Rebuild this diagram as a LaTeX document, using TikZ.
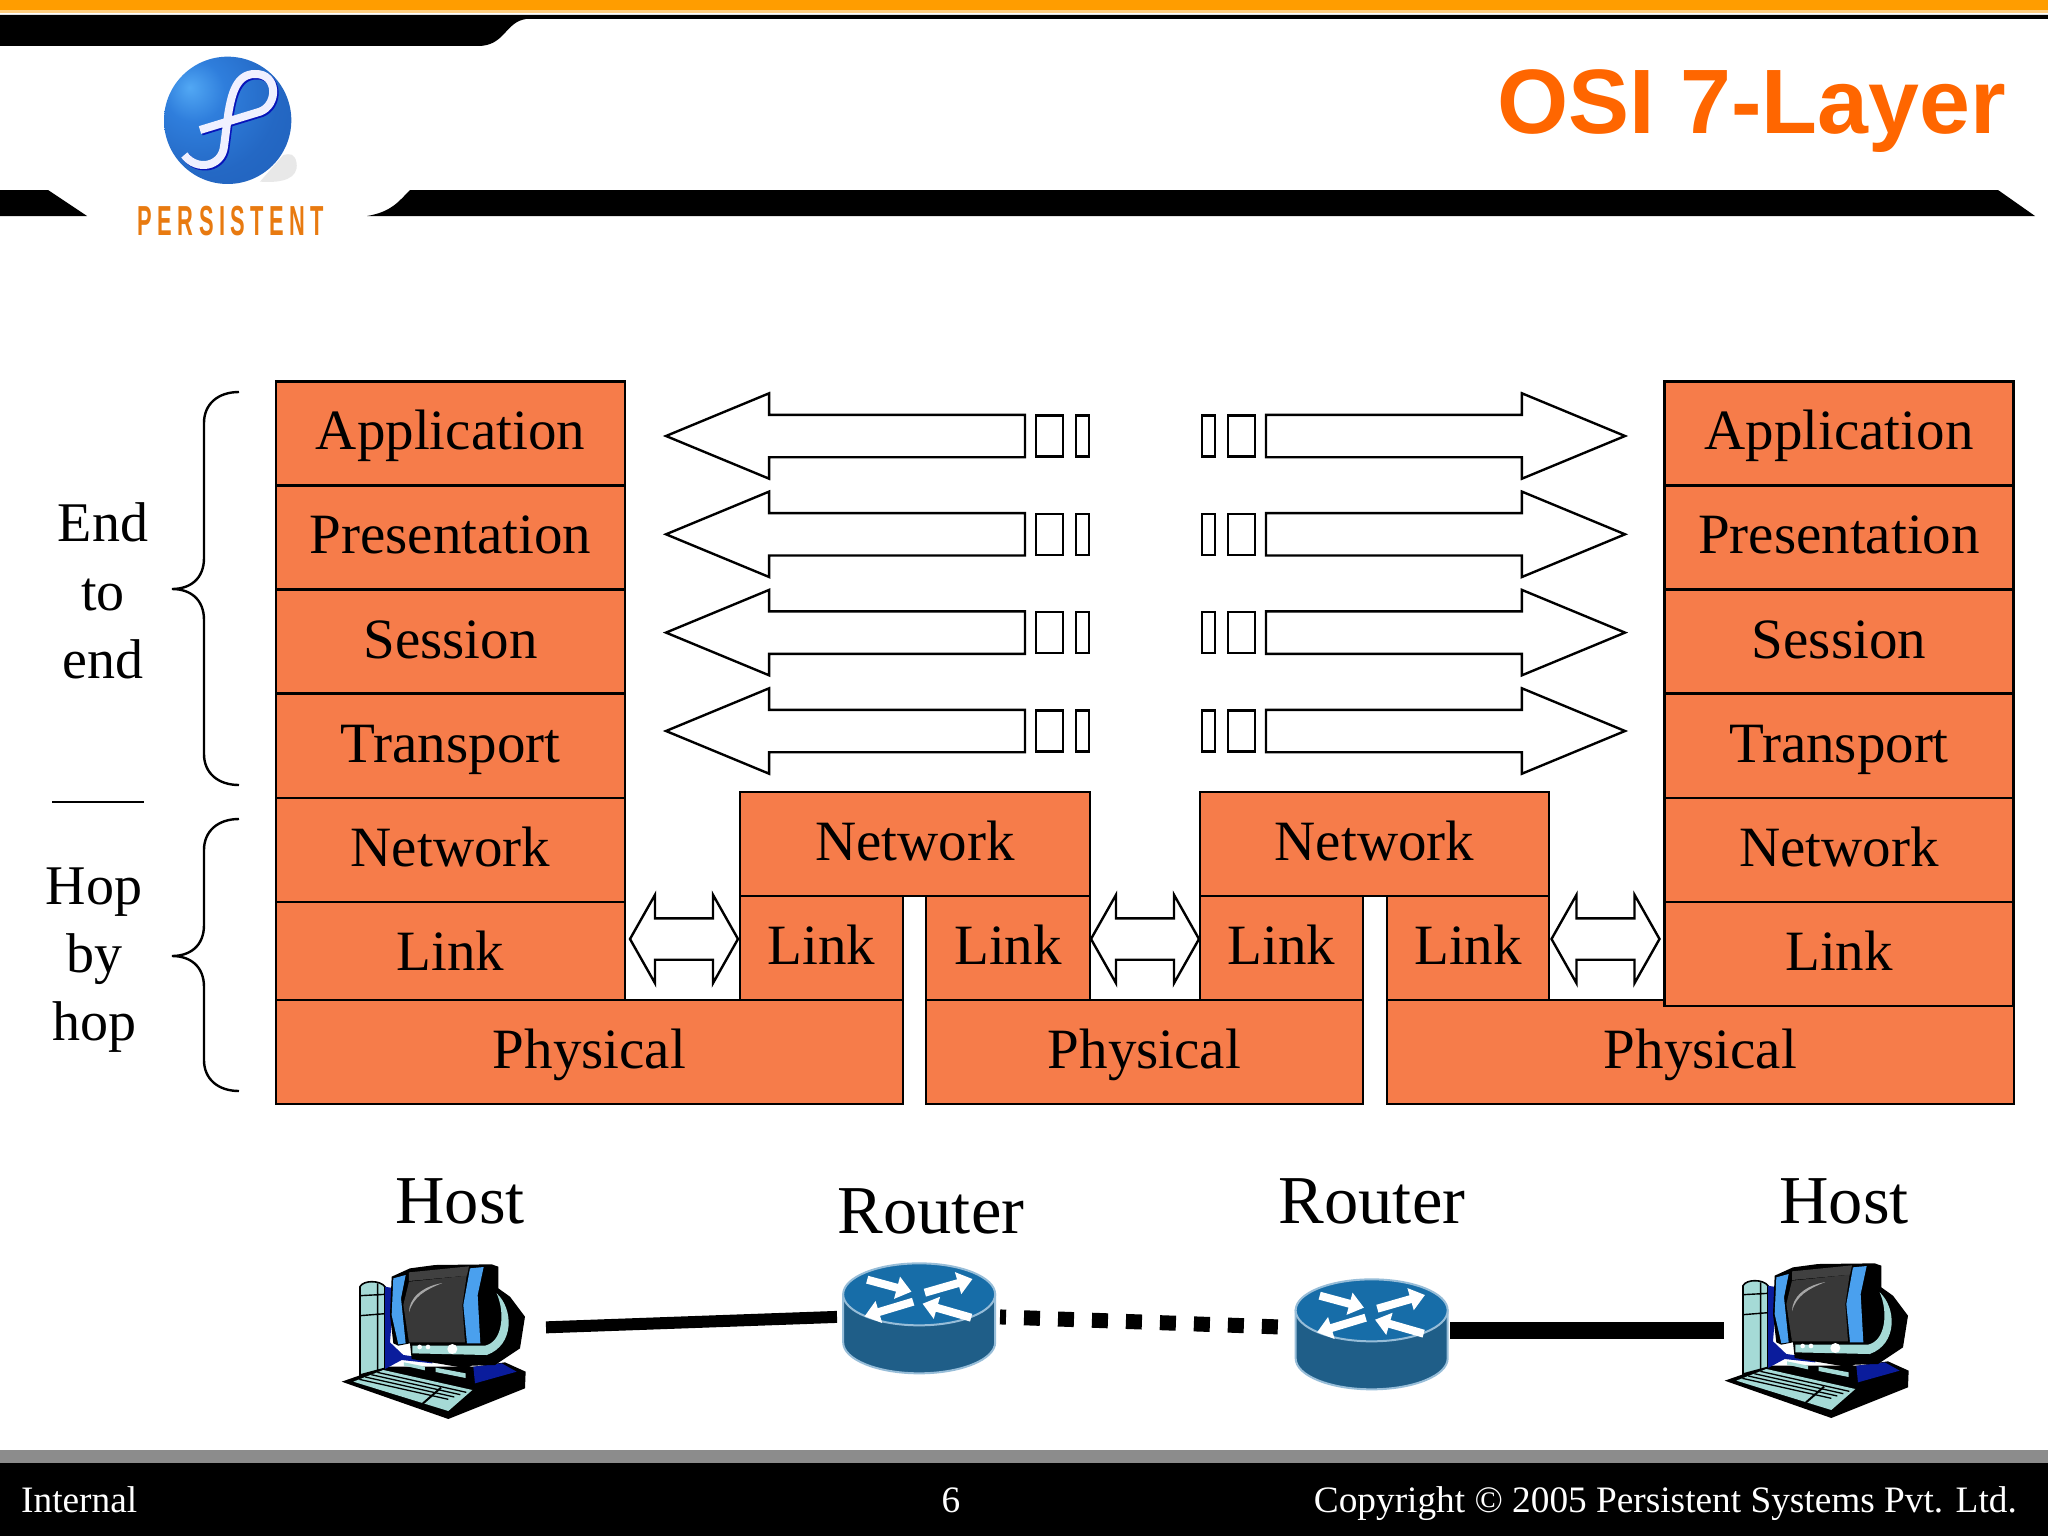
\documentclass[tikz,border=0pt]{standalone}
\usepackage{fontspec}
\setmainfont{Liberation Serif}
\newfontfamily\titlefont{Liberation Sans}
\newfontfamily\logofont[LetterSpace=25]{Liberation Sans}
\usepackage{tikz}
\usetikzlibrary{arrows.meta,shapes.arrows,calc}

\definecolor{layerfill}{HTML}{F67C4A}
\definecolor{titleorange}{HTML}{FF6600}
\definecolor{bandorange}{HTML}{FF9D00}
\definecolor{logoorange}{HTML}{E87A10}
\definecolor{monpale}{HTML}{A5DAD6}
\definecolor{mondeep}{HTML}{0A1C9C}
\definecolor{monblue}{HTML}{4AA0EE}
\definecolor{routertop}{HTML}{176DA8}
\definecolor{routerbody}{HTML}{1F5E88}
\definecolor{ballhi}{HTML}{52A8F4}
\definecolor{ballmid}{HTML}{2F7EDC}
\definecolor{ballrim}{HTML}{2468C4}
\definecolor{ballout}{HTML}{1E5CB6}

\pgfdeclareradialshading{logoball}{\pgfpoint{-15bp}{13bp}}{%
  color(0bp)=(ballhi);
  color(12bp)=(ballmid);
  color(30bp)=(ballrim);
  color(60bp)=(ballout);
  color(100bp)=(ballout)}

\tikzset{
  layer/.style={draw=black,fill=layerfill,line width=2.6pt,inner sep=0pt,outer sep=0pt,
    minimum height=104.1pt,text height=41.3pt,text depth=8.7pt,
    font=\fontsize{57}{68}\selectfont},
  hoststack/.style={layer,minimum width=349pt},
  sidetext/.style={align=center,font=\fontsize{56}{68.3}\selectfont},
  devicetext/.style={font=\fontsize{68.5}{80}\selectfont},
  foottext/.style={text=white,font=\fontsize{37.3}{42}\selectfont},
  blockarrow/.style={draw=black,fill=white,line width=2.4pt,inner xsep=0pt,outer sep=0pt},
  leftarrow/.style={blockarrow,single arrow,shape border rotate=180,anchor=tip,inner ysep=20pt,
    minimum width=83pt,minimum height=359pt,single arrow head extend=21.5pt,
    single arrow tip angle=45},
  rightarrow/.style={blockarrow,single arrow,anchor=tip,inner ysep=20pt,
    minimum width=83pt,minimum height=359pt,single arrow head extend=21.5pt,
    single arrow tip angle=45},
  linkarrow/.style={blockarrow,double arrow,inner ysep=19.5pt,minimum width=86pt,minimum height=108pt,
    double arrow head extend=23.5pt,double arrow tip angle=121},
  dashbox/.style={draw=black,fill=white,line width=2.4pt,inner sep=0pt,outer sep=0pt,minimum height=41pt},
  devicespot/.style={inner sep=0pt,outer sep=0pt,minimum height=100pt},
  bracestroke/.style={draw=black,line width=2.4pt},
  computer/.pic={
    \begin{scope}[x=.3333pt,y=-.3333pt,shift={(-18,-228)}]
      % base and keyboard tray
      \fill[black] (20,380) -- (150,335) -- (420,335) -- (510,322) -- (572,350) -- (570,400) -- (340,492) -- cycle;
      % tower
      \draw[fill=monpale,line width=1.6pt] (75,360) -- (75,95) .. controls (85,75) and (135,75) .. (150,95) -- (150,340) -- cycle;
      \draw[line width=1.4pt] (128,85) -- (128,350) (75,122) -- (150,118) (75,182) -- (150,176);
      % blue behind
      \fill[mondeep] (150,95) -- (178,100) -- (165,262) -- (205,300) -- (292,312) -- (292,325) -- (200,315) -- (150,342) -- cycle;
      \fill[mondeep] (415,335) -- (500,325) -- (545,350) -- (420,385) -- cycle;
      % monitor
      \fill[black] (170,65) -- (225,40) -- (300,30) -- (470,28) -- (490,35) -- (490,100) -- (525,125) -- (570,185) -- (555,280) -- (480,330) -- (410,332) -- (395,340) -- (230,312) -- (225,265) -- (190,272) -- (175,265) -- (165,180) -- cycle;
      \fill[monpale] (485,115) .. controls (535,160) and (540,270) .. (455,300) -- (232,295) -- (232,272) -- (450,272) .. controls (505,260) and (510,170) .. (485,115) -- cycle;
      \fill[monblue] (175,70) -- (212,60) -- (198,130) -- (212,265) -- (190,268) -- (170,180) -- cycle;
      \fill[monblue] (405,40) -- (446,36) -- (428,120) -- (436,265) -- (396,265) -- (385,150) -- cycle;
      \fill[black!75] (222,52) -- (402,34) -- (396,62) -- (222,78) -- cycle;
      \fill[black!78] (222,80) -- (395,62) -- (382,150) -- (390,262) -- (222,262) -- (205,150) -- cycle;
      \fill[black!35] (222,172) .. controls (222,130) and (260,95) .. (322,84) .. controls (270,105) and (235,125) .. (222,172) -- cycle;
      \fill[white] (254,276) circle (7) (279,276) circle (7) (352,282) circle (15);
      % small slots
      \fill[monpale] (207,322) -- (270,335) -- (270,346) -- (207,332) -- cycle;
      \fill[monpale] (302,338) -- (392,355) -- (392,369) -- (302,351) -- cycle;
      % keys
      \fill[monpale] (55,380) -- (145,345) -- (412,405) -- (340,468) -- cycle;
      \foreach \k in {1,2,3,4}
        \draw[line width=1.3pt] ($(145,345)+\k*(-18,7)$) -- ++(267,60);
      \draw[line width=2pt] (262,447) -- (318,398);
    \end{scope}
  },
  routericon/.pic={
    \begin{scope}[x=.3333pt,y=-.3333pt,shift={(-266,-177)}]
      \draw[draw=routertop!45!white,fill=routerbody,line width=2pt] (40,118) -- (40,262) arc[start angle=180,end angle=0,x radius=228,y radius=93] -- (496,118) -- cycle;
      \draw[draw=routertop!45!white,fill=routertop,line width=2pt] (268,118) ellipse[x radius=228,y radius=93];
      \draw[white,line width=8pt,-{Triangle[length=15pt,width=22pt]}] (112,74) -- (245,110);
      \draw[white,line width=8pt,-{Triangle[length=15pt,width=22pt]}] (285,113) -- (428,72);
      \draw[white,line width=8pt,-{Triangle[length=15pt,width=22pt]}] (250,140) -- (104,184);
      \draw[white,line width=8pt,-{Triangle[length=15pt,width=22pt]}] (424,188) -- (278,146);
    \end{scope}
  }
}

\newcommand{\sidebrace}[3]{%
  \draw[bracestroke] (239,#1) .. controls (218,#1) and (204,#1+12) .. (204,#1+31) -- (204,#2-31)
    .. controls (204,#2-10) and (190,#2) .. (172,#2) .. controls (190,#2) and (204,#2+10) .. (204,#2+31)
    -- (204,#3-31) .. controls (204,#3-12) and (218,#3) .. (239,#3);}

\begin{document}
\begin{tikzpicture}[x=1pt,y=-1pt,node distance=104.1pt]

    \useasboundingbox (0,0) rectangle (2048,1536);
    \fill[white] (0,0) rectangle (2048,1536);

    % header bands
    \fill[bandorange] (0,0) rectangle (2048,10);
    \fill[bandorange!50!white] (0,10) rectangle (2048,13);
    \fill[black] (0,15) -- (2048,15) -- (2048,19) -- (526,19) .. controls (505,22) and (505,46) .. (478,46) -- (0,46) -- cycle;
    \fill[black] (0,190) -- (48,190) -- (87,216) -- (0,216) -- cycle;
    \fill[black] (367,216) .. controls (392,212) and (400,200) .. (410,190) -- (1998,190) -- (2035,216) -- cycle;

    % logo
    \begin{scope}[shift={(150,50)},x=.3333pt,y=-.3333pt]
      \fill[black!9] (330,395) .. controls (400,400) and (445,385) .. (440,340) .. controls (435,310) and (420,310) .. (400,315) -- cycle;
      \shade[shading=logoball] (233,211) circle (191);
      \draw[draw=mondeep!70!blue,line width=8pt,xshift=1.5pt,yshift=-1.5pt] (150,240) -- (330,185) .. controls (385,165) and (385,70) .. (315,72) .. controls (260,72) and (245,130) .. (235,190) -- (222,290) .. controls (215,350) and (140,365) .. (103,315);
      \draw[draw=blue!6,line width=8pt] (150,240) -- (330,185) .. controls (385,165) and (385,70) .. (315,72) .. controls (260,72) and (245,130) .. (235,190) -- (222,290) .. controls (215,350) and (140,365) .. (103,315);
    \end{scope}
    \node[text=logoorange,font=\logofont\bfseries\fontsize{42}{50}\selectfont,xscale=.52,inner sep=0pt] (logotext) at (231,221) {PERSISTENT};

    \node[anchor=base east,text=titleorange,inner sep=0pt,font=\titlefont\bfseries\fontsize{91.5}{100}\selectfont] (title) at (2006,134) {OSI 7-Layer};

    % left host, top down
    \node[hoststack] (appA) at (450.5,433.5) {Application};
    \node[hoststack] (preA) [below of=appA] {Presentation};
    \node[hoststack] (sesA) [below of=preA] {Session};
    \node[hoststack] (traA) [below of=sesA] {Transport};
    \node[hoststack] (netA) [below of=traA] {Network};
    \node[hoststack] (linA) [below of=netA] {Link};

    % right host, its link goes over the physical box
    \node[hoststack] (appB) at (1839,433.5) {Application};
    \node[hoststack] (preB) [below of=appB] {Presentation};
    \node[hoststack] (sesB) [below of=preB] {Session};
    \node[hoststack] (traB) [below of=sesB] {Transport};
    \node[hoststack] (netB) [below of=traB] {Network};

    % routers
    \node[layer,minimum width=350pt] (netR) at (915,844) {Network};
    \node[layer,minimum width=163pt] (linRa) at (821.5,948) {Link};
    \node[layer,minimum width=164pt] (linRb) at (1008,948) {Link};
    \node[layer,minimum width=349pt] (netS) at (1374.5,844) {Network};
    \node[layer,minimum width=163pt] (linSa) at (1281.5,948) {Link};
    \node[layer,minimum width=162pt] (linSb) at (1468,948) {Link};

    % physical
    \node[layer,minimum width=627pt] (phyA) at (589.5,1052) {Physical};
    \node[layer,minimum width=437pt] (phyB) at (1144.5,1052) {Physical};
    \node[layer,minimum width=627pt] (phyC) at (1700.5,1052) {Physical};
    \node[hoststack] (linB) [below of=netB] {Link};

    % arrows between the hosts
    \foreach \y [count=\i] in {436,534.3,632.6,731}{
      \node[leftarrow] (peerL\i) at (666,\y) {};
      \node[dashbox,minimum width=27pt] (boxLa\i) at (1049.5,\y) {};
      \node[dashbox,minimum width=13pt] (boxLb\i) at (1082.5,\y) {};
      \node[rightarrow] (peerR\i) at (1625,\y) {};
      \node[dashbox,minimum width=27pt] (boxRa\i) at (1241.5,\y) {};
      \node[dashbox,minimum width=13pt] (boxRb\i) at (1208.5,\y) {};
    }

    \node[linkarrow] (hopA) at (684,939) {};
    \node[linkarrow] (hopB) at (1145,939) {};
    \node[linkarrow] (hopC) at (1605.5,939) {};

    % left side
    \sidebrace{392}{589}{785}
    \sidebrace{819}{956}{1091}
    \draw[bracestroke] (52,802) -- (144,802);
    \node[sidetext] (endtext) at (103,591) {End\\to\\end};
    \node[sidetext] (hoptext) at (94,960) {Hop\\by\\hop};

    % devices
    \node[devicetext] (hostAtext) at (460,1201) {Host};
    \node[devicetext] (routerAtext) at (931,1211) {Router};
    \node[devicetext] (routerBtext) at (1372,1201) {Router};
    \node[devicetext] (hostBtext) at (1844,1201) {Host};

    \node[devicespot,minimum width=205pt] (hostA) at (443.5,1331) {};
    \node[devicespot,minimum width=163pt] (routerA) at (918.5,1314) {};
    \node[devicespot,minimum width=170pt] (routerB) at (1365,1330) {};
    \node[devicespot,minimum width=205pt] (hostB) at (1826.5,1330) {};

    \path (hostA)   edge[line width=12pt] (routerA)
          (routerA) edge[line width=15pt,dash pattern=on 16pt off 18pt,dash phase=10pt] (routerB)
          (routerB) edge[line width=17pt] (hostB);

    \pic at (hostA.west) {computer};
    \pic at (hostB.west) {computer};
    \pic at (routerA.center) {routericon};
    \pic at ([xshift=6pt]routerB.center) {routericon};

    % footer
    \fill[black!45] (0,1450) rectangle (2048,1463);
    \fill[black] (0,1463) rectangle (2048,1536);
    \node[foottext,anchor=base west,inner sep=0pt] (internal) at (21,1512) {Internal};
    \node[foottext,anchor=base,inner sep=0pt] (pagenum) at (951,1512) {6};
    \node[foottext,anchor=base east,inner sep=0pt] (copyright) at (2017,1512) {Copyright © 2005 Persistent Systems Pvt. Ltd.};

\end{tikzpicture}
\end{document}
